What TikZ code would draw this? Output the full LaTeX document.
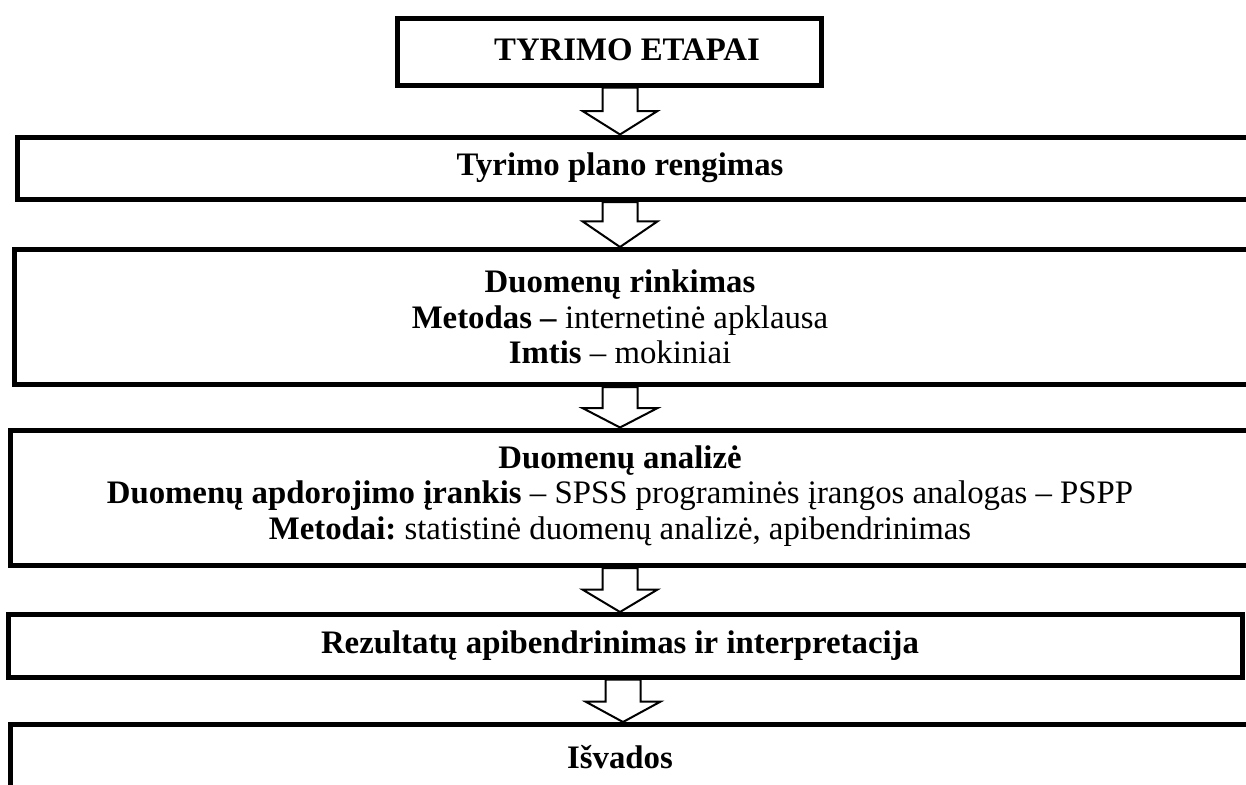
\documentclass[tikz,border=0pt]{standalone}
\usepackage{fontspec}
\setmainfont{Liberation Serif}
\frenchspacing
\usetikzlibrary{calc,backgrounds}
\tikzset{
  stagebox/.style={draw=black, line width=5pt, inner sep=0pt, rectangle},
  label/.style={font=\fontsize{32.8}{35.5}\selectfont, align=center, inner sep=0pt},
  barrow/.style={draw=black, fill=white, line width=2pt, line join=miter},
}
\newcommand\blockarrow[3]{%
  \draw[barrow] ($(#1)+(-17.5,0)$) -- ($(#1)!#3!(#2)+(-17.5,0)$) -- ($(#1)!#3!(#2)+(-37.5,0)$) -- (#2) -- ($(#1)!#3!(#2)+(37.5,0)$) -- ($(#1)!#3!(#2)+(17.5,0)$) -- ($(#1)+(17.5,0)$) -- cycle;}
\begin{document}
\begin{tikzpicture}[x=1pt,y=-1pt]
\useasboundingbox (0,0) rectangle (1246,784);
\clip (0,0) rectangle (1246,784);
% boxes
\node[stagebox, minimum width=423.5pt, minimum height=66.5pt] (b1) at (609.25,51.75) {};
\node[stagebox, minimum width=1282.5pt, minimum height=62.5pt] (b2) at (658.75,168.25) {};
\node[stagebox, minimum width=1285.5pt, minimum height=135pt] (b3) at (657.25,317) {};
\node[stagebox, minimum width=1289.5pt, minimum height=135.5pt] (b4) at (655.25,497.75) {};
\node[stagebox, minimum width=1234pt, minimum height=62.5pt] (b5) at (625.5,645.75) {};
\node[stagebox, minimum width=1289.5pt, minimum height=125.5pt] (b6) at (655.25,787.25) {};
% texts
\node[label] (t1) at (627,50) {\textbf{TYRIMO ETAPAI}};
\node[label] (t2) at (620,168) {\textbf{Tyrimo plano rengimas}};
\node[label] (t3) at (620,317) {\textbf{Duomenų rinkimas}\\\textbf{Metodas –} internetinė apklausa\\\textbf{Imtis} – mokiniai};
\node[label] (t4) at (620,496) {\textbf{Duomenų analizė}\\\textbf{Duomenų apdorojimo įrankis} – SPSS programinės įrangos analogas – PSPP\\\textbf{Metodai:} statistinė duomenų analizė, apibendrinimas};
\node[label] (t5) at (620,646) {\textbf{Rezultatų apibendrinimas ir interpretacija}};
\node[label] (t6) at (620,757) {\textbf{Išvados}};
% arrow axis
\coordinate (ax) at (620,0);
\coordinate (ax5) at (623,0);
\coordinate (p1) at (b1.south -| ax);
\coordinate (q1) at (b2.north -| ax);
\coordinate (p2) at (b2.south -| ax);
\coordinate (q2) at (b3.north -| ax);
\coordinate (p3) at (b3.south -| ax);
\coordinate (q3) at (b4.north -| ax);
\coordinate (p4) at (b4.south -| ax);
\coordinate (q4) at (b5.north -| ax);
\coordinate (p5) at (b5.south -| ax5);
\coordinate (q5) at (b6.north -| ax5);
\begin{scope}[on background layer]
\fill[white] (0,0) rectangle (1246,784);
\blockarrow{p1}{q1}{0.5}
\blockarrow{p2}{q2}{0.43}
\blockarrow{p3}{q3}{0.52}
\blockarrow{p4}{q4}{0.49}
\blockarrow{p5}{q5}{0.52}
\end{scope}
\end{tikzpicture}
\end{document}
